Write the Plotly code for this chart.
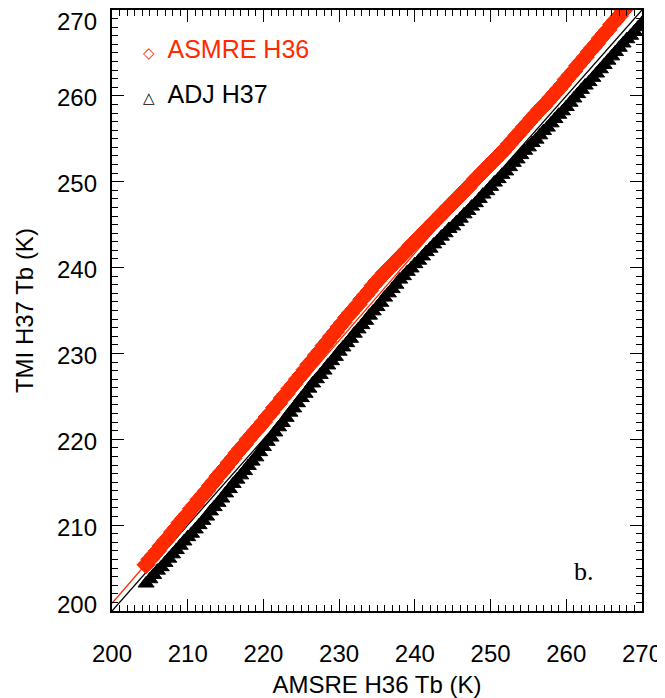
import plotly.graph_objects as go

# ---- data ----
red_x = [204.5, 205.0, 205.5, 206.0, 206.5, 207.0, 207.5, 208.0, 208.5, 209.0, 209.5, 210.0,
         210.5, 211.0, 211.5, 212.0, 212.5, 213.0, 213.5, 214.0, 214.5, 215.0, 215.5, 216.0,
         216.5, 217.0, 217.5, 218.0, 218.5, 219.0, 219.5, 220.0, 220.5, 221.0, 221.5, 222.0,
         222.5, 223.0, 223.5, 224.0, 224.5, 225.0, 225.5, 226.0, 226.5, 227.0, 227.5, 228.0,
         228.5, 229.0, 229.5, 230.0, 230.5, 231.0, 231.5, 232.0, 232.5, 233.0, 233.5, 234.0,
         234.5, 235.0, 235.5, 236.0, 236.5, 237.0, 237.5, 238.0, 238.5, 239.0, 239.5, 240.0,
         240.5, 241.0, 241.5, 242.0, 242.5, 243.0, 243.5, 244.0, 244.5, 245.0, 245.5, 246.0,
         246.5, 247.0, 247.5, 248.0, 248.5, 249.0, 249.5, 250.0, 250.5, 251.0, 251.5, 252.0,
         252.5, 253.0, 253.5, 254.0, 254.5, 255.0, 255.5, 256.0, 256.5, 257.0, 257.5, 258.0,
         258.5, 259.0, 259.5, 260.0, 260.5, 261.0, 261.5, 262.0, 262.5, 263.0, 263.5, 264.0,
         264.5, 265.0, 265.5, 266.0, 266.5, 267.0, 267.5, 268.0]
red_y = [205.4, 206.0, 206.5, 207.0, 207.6, 208.1, 208.6, 209.2, 209.7, 210.3, 210.8, 211.3,
         211.9, 212.4, 213.0, 213.5, 214.0, 214.6, 215.1, 215.7, 216.2, 216.7, 217.3, 217.8,
         218.4, 218.9, 219.4, 220.0, 220.5, 221.0, 221.5, 222.0, 222.6, 223.1, 223.7, 224.2,
         224.8, 225.3, 225.9, 226.4, 227.0, 227.5, 228.1, 228.7, 229.2, 229.8, 230.3, 230.9,
         231.4, 232.0, 232.5, 233.1, 233.6, 234.2, 234.7, 235.2, 235.7, 236.3, 236.8, 237.3,
         237.9, 238.4, 238.9, 239.4, 239.8, 240.3, 240.7, 241.2, 241.6, 242.1, 242.6, 243.0,
         243.5, 243.9, 244.4, 244.8, 245.3, 245.7, 246.2, 246.6, 247.1, 247.5, 248.0, 248.4,
         248.9, 249.3, 249.8, 250.3, 250.7, 251.2, 251.6, 252.1, 252.5, 253.0, 253.4, 253.9,
         254.4, 254.9, 255.4, 255.9, 256.4, 256.9, 257.4, 257.9, 258.4, 258.8, 259.3, 259.8,
         260.3, 260.8, 261.3, 261.9, 262.4, 262.9, 263.5, 264.0, 264.5, 265.1, 265.6, 266.1,
         266.7, 267.2, 267.7, 268.3, 268.8, 269.3, 269.9, 270.4]

blk_x = [204.5, 205.0, 205.5, 206.0, 206.5, 207.0, 207.5, 208.0, 208.5, 209.0, 209.5, 210.0,
         210.5, 211.0, 211.5, 212.0, 212.5, 213.0, 213.5, 214.0, 214.5, 215.0, 215.5, 216.0,
         216.5, 217.0, 217.5, 218.0, 218.5, 219.0, 219.5, 220.0, 220.5, 221.0, 221.5, 222.0,
         222.5, 223.0, 223.5, 224.0, 224.5, 225.0, 225.5, 226.0, 226.5, 227.0, 227.5, 228.0,
         228.5, 229.0, 229.5, 230.0, 230.5, 231.0, 231.5, 232.0, 232.5, 233.0, 233.5, 234.0,
         234.5, 235.0, 235.5, 236.0, 236.5, 237.0, 237.5, 238.0, 238.5, 239.0, 239.5, 240.0,
         240.5, 241.0, 241.5, 242.0, 242.5, 243.0, 243.5, 244.0, 244.5, 245.0, 245.5, 246.0,
         246.5, 247.0, 247.5, 248.0, 248.5, 249.0, 249.5, 250.0, 250.5, 251.0, 251.5, 252.0,
         252.5, 253.0, 253.5, 254.0, 254.5, 255.0, 255.5, 256.0, 256.5, 257.0, 257.5, 258.0,
         258.5, 259.0, 259.5, 260.0, 260.5, 261.0, 261.5, 262.0, 262.5, 263.0, 263.5, 264.0,
         264.5, 265.0, 265.5, 266.0, 266.5, 267.0, 267.5, 268.0, 268.5, 269.0, 269.5, 270.0]
blk_y = [203.2, 203.7, 204.2, 204.7, 205.1, 205.6, 206.1, 206.6, 207.1, 207.6, 208.1, 208.6,
         209.0, 209.5, 210.0, 210.5, 211.0, 211.6, 212.1, 212.6, 213.1, 213.7, 214.2, 214.8,
         215.3, 215.8, 216.3, 216.9, 217.4, 217.9, 218.5, 219.1, 219.7, 220.2, 220.8, 221.4,
         221.9, 222.5, 223.1, 223.6, 224.2, 224.8, 225.3, 225.9, 226.5, 227.0, 227.5, 228.0,
         228.6, 229.1, 229.6, 230.2, 230.7, 231.2, 231.7, 232.3, 232.8, 233.3, 233.8, 234.4,
         234.9, 235.4, 235.9, 236.5, 237.0, 237.5, 238.0, 238.6, 239.0, 239.5, 239.9, 240.4,
         240.8, 241.3, 241.8, 242.2, 242.7, 243.1, 243.6, 244.0, 244.5, 244.8, 245.3, 245.7,
         246.2, 246.6, 247.1, 247.5, 248.0, 248.5, 248.9, 249.4, 249.9, 250.3, 250.8, 251.2,
         251.7, 252.2, 252.6, 253.1, 253.6, 254.0, 254.5, 254.9, 255.4, 255.9, 256.3, 256.8,
         257.3, 257.8, 258.2, 258.7, 259.2, 259.7, 260.2, 260.7, 261.2, 261.6, 262.1, 262.6,
         263.1, 263.6, 264.1, 264.6, 265.1, 265.6, 266.1, 266.6, 267.0, 267.5, 268.0, 268.5]

# reference lines (1:1 and red fit), end points
one_x = [200.0, 270.0]
one_y = [200.0, 270.0]
fit_x = [200.0, 270.0]
fit_y = [200.9, 272.3]

x_ticks = [200, 210, 220, 230, 240, 250, 260, 270]
y_ticks = [200, 210, 220, 230, 240, 250, 260, 270]

RED = "#ff2a00"
FONT = "Liberation Sans, Arial, Helvetica, sans-serif"

fig = go.Figure()
fig.add_trace(go.Scatter(x=fit_x, y=fit_y, mode="lines", line=dict(color=RED, width=1.3),
                         showlegend=False, hoverinfo="skip"))
fig.add_trace(go.Scatter(x=one_x, y=one_y, mode="lines", line=dict(color="black", width=1.3),
                         showlegend=False, hoverinfo="skip"))
fig.add_trace(go.Scatter(x=blk_x, y=blk_y, mode="markers", name="ADJ H37", showlegend=False,
                         marker=dict(symbol="triangle-up", size=14, color="black",
                                     line=dict(width=1, color="black"))))
fig.add_trace(go.Scatter(x=red_x, y=red_y, mode="markers", name="ASMRE H36", showlegend=False,
                         marker=dict(symbol="diamond", size=14, color=RED,
                                     line=dict(width=1, color=RED))))

# legend drawn as text, as in the original
fig.add_annotation(x=0.055, y=0.935, xref="paper", yref="paper", xanchor="left", yanchor="middle",
                   text='<span style="font-size:15px">◇</span>  ASMRE H36', showarrow=False,
                   font=dict(family=FONT, size=25, color=RED))
fig.add_annotation(x=0.055, y=0.86, xref="paper", yref="paper", xanchor="left", yanchor="middle",
                   text='<span style="font-size:15px">△</span>  ADJ H37', showarrow=False,
                   font=dict(family=FONT, size=25, color="black"))

fig.add_annotation(x=0.89, y=0.065, xref="paper", yref="paper", text="b.", showarrow=False,
                   font=dict(family="Liberation Serif, Times New Roman, serif", size=26, color="black"),
                   xanchor="center", yanchor="middle")

# y tick labels (IDL keeps the end labels inside the frame height)
for v in y_ticks:
    shift = -11 if v == y_ticks[-1] else (7 if v == y_ticks[0] else -2)
    fig.add_annotation(x=0, xref="paper", y=v, yref="y", text=str(v), showarrow=False,
                       xanchor="right", yanchor="middle", xshift=-13, yshift=shift,
                       font=dict(family=FONT, size=24, color="black"))

axis_common = dict(
    showline=True, linecolor="black", linewidth=1.5, mirror="allticks",
    ticks="inside", ticklen=12, tickwidth=1.3, tickcolor="black",
    minor=dict(dtick=1, ticks="inside", ticklen=6, tickwidth=1.1, tickcolor="black"),
    showgrid=False, zeroline=False, automargin=False,
    tickfont=dict(family=FONT, size=24, color="black"),
)

fig.update_xaxes(range=[200, 270], tickvals=x_ticks, ticktext=[str(v) for v in x_ticks],
                 ticklabelstandoff=20,
                 title=dict(text="AMSRE H36 Tb (K)", font=dict(family=FONT, size=24, color="black"),
                            standoff=17),
                 **axis_common)
fig.update_yaxes(range=[200, 270], tickvals=y_ticks, showticklabels=False,
                 **axis_common)

fig.add_annotation(x=-0.165, xref="paper", y=0.5, yref="paper", text="TMI H37 Tb (K)",
                   textangle=-90, showarrow=False, xanchor="center", yanchor="middle",
                   font=dict(family=FONT, size=24, color="black"))

# the page body adds an 8 px offset; the figure is sized to fill the rest of the window
fig.update_layout(
    width=657, height=690,
    margin=dict(l=104, r=23, t=2, b=87),
    paper_bgcolor="white", plot_bgcolor="white",
    showlegend=False,
)

fig.write_html("out.html")
